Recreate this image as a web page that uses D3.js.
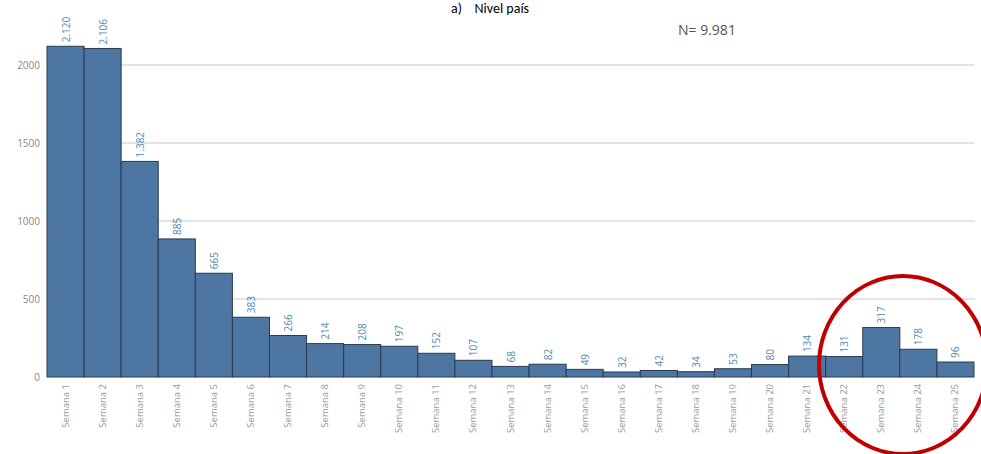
<!DOCTYPE html>
<html><head><meta charset="utf-8">
<script src="https://cdn.jsdelivr.net/npm/d3@7"></script>
<style>body{margin:0;background:#fff}svg{display:block}</style>
</head><body>
<svg id="c" width="981" height="454"></svg>
<script>
const categories = d3.range(1,26).map(i=>"Semana "+i);
const values = [2120,2106,1382,885,665,383,266,214,208,197,152,107,68,82,49,32,42,34,53,80,134,131,317,178,96];
const yTicks = [0,500,1000,1500,2000];
const fmt = v => v>=1000 ? d3.format(",")(v).replace(",", ".") : String(v);

const svg = d3.select("#c");
const x = d3.scaleBand().domain(categories).range([47,974]).padding(0);
const y = d3.scaleLinear().domain([0,2000]).range([377,65]);

svg.selectAll("line.g").data(yTicks.filter(t=>t>0)).join("line")
  .attr("x1",47).attr("x2",975).attr("y1",d=>y(d)).attr("y2",d=>y(d))
  .attr("stroke","#c8c8c8").attr("stroke-width",1);
svg.selectAll("text.yt").data(yTicks).join("text")
  .attr("x",40).attr("y",d=>y(d)+4).attr("text-anchor","end")
  .attr("font-family","Open Sans, sans-serif").attr("font-size",10).attr("fill","#888")
  .text(d=>d);

svg.selectAll("rect.b").data(values).join("rect")
  .attr("x",(d,i)=>x(categories[i])).attr("width",x.bandwidth())
  .attr("y",d=>y(d)).attr("height",d=>y(0)-y(d))
  .attr("fill","#4e76a3").attr("stroke","#2b3a4d").attr("stroke-width",1);

svg.selectAll("text.v").data(values).join("text")
  .attr("transform",(d,i)=>`translate(${x(categories[i])+x.bandwidth()/2+4},${y(d)-4}) rotate(-90)`)
  .attr("font-family","Open Sans, sans-serif").attr("font-size",10).attr("fill","#4f89b0")
  .text(d=>fmt(d));

svg.selectAll("text.xl").data(categories).join("text")
  .attr("transform",d=>`translate(${x(d)+x.bandwidth()/2+3},384) rotate(-90)`)
  .attr("text-anchor","end")
  .attr("font-family","Open Sans, sans-serif").attr("font-size",9.5).attr("fill","#999")
  .text(d=>d);

svg.append("text").attr("x",490).attr("y",13).attr("text-anchor","middle")
  .attr("font-family","Carlito, Liberation Sans, sans-serif").attr("font-size",14).attr("fill","#000")
  .text("a)\u00a0\u00a0\u00a0\u00a0Nivel país");
svg.append("text").attr("x",678).attr("y",35)
  .attr("font-family","Open Sans, sans-serif").attr("font-size",14).attr("fill","#555")
  .text("N= 9.981");

svg.append("ellipse").attr("cx",903).attr("cy",365).attr("rx",84).attr("ry",89)
  .attr("fill","none").attr("stroke","#c00000").attr("stroke-width",4);
</script>
</body></html>
